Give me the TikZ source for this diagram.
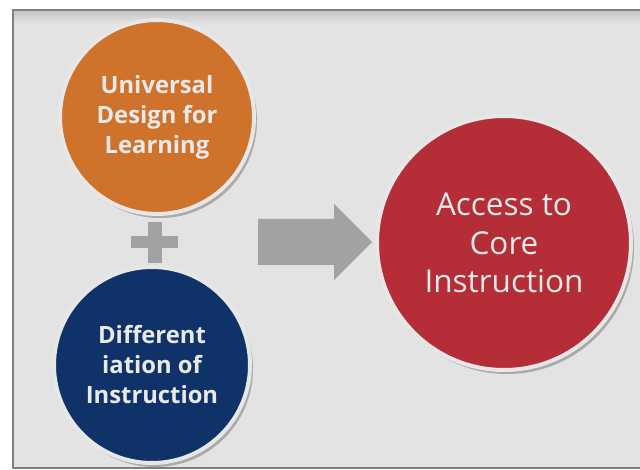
\documentclass[tikz,border=0pt]{standalone}
\usepackage{fontspec}
\setmainfont{Open Sans}
\usetikzlibrary{shadows}
\definecolor{udlorange}{HTML}{CF722C}
\definecolor{difblue}{HTML}{0F3369}
\definecolor{corered}{HTML}{B52D37}
\definecolor{panelgray}{HTML}{E2E3E2}
\definecolor{framegray}{HTML}{808080}
\definecolor{ringgray}{HTML}{E6E7E6}
\definecolor{textgray}{HTML}{E9E9E9}
\definecolor{arrowgray}{HTML}{A2A2A2}
\tikzset{
  bubble/.style={circle, draw=ringgray, line width=4pt, text=textgray,
    align=center, inner sep=0pt,
    drop shadow={shadow xshift=3pt, shadow yshift=-4pt, opacity=0.25, fill=black}},
  smallfont/.style={font=\fontsize{23.8}{30}\selectfont\bfseries},
  bigfont/.style={font=\fontsize{31.5}{38.5}\selectfont}
}
\begin{document}
\begin{tikzpicture}[x=1pt,y=-1pt]
    \useasboundingbox (0,0) rectangle (640,470);
    % the panel behind everything
    \fill[panelgray] (13,10) rectangle (640,468);
    \shade[top color=black!22, bottom color=panelgray] (13,11) rectangle (640,24);
    \draw[framegray, line width=1.5pt] (640,10) -- (13,10) -- (13,468) -- (640,468);
    % the two inputs
    \node[bubble, smallfont, fill=udlorange, minimum size=194pt] (udl) at (157,117) {Universal\\Design for\\Learning};
    \node[bubble, smallfont, fill=difblue, minimum size=196pt] (diff) at (152,365) {Different\\iation of\\Instruction};
    % plus sign between them
    \fill[arrowgray] (148,222) rectangle (162,263);
    \fill[arrowgray] (131,236) rectangle (178,248);
    % the result
    \node[bubble, bigfont, fill=corered, minimum size=254pt] (core) at (504,243) {Access to\\Core\\Instruction};
    % big block arrow
    \fill[arrowgray] (258,219) -- (334,219) -- (334,204) -- (372,242) -- (334,280) -- (334,265) -- (258,265) -- cycle;
\end{tikzpicture}
\end{document}
